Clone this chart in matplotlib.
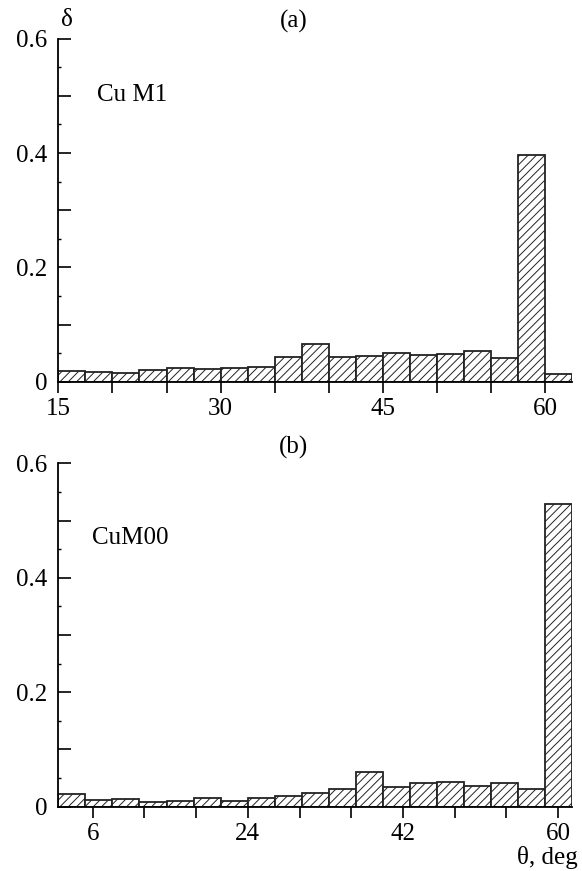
import numpy as np
import matplotlib
matplotlib.use('Agg')
import matplotlib.pyplot as plt
from matplotlib.ticker import MultipleLocator

plt.rcParams['font.family'] = ['Liberation Serif', 'DejaVu Serif']
plt.rcParams['hatch.linewidth'] = 0.7

# panel (a), Cu M1: bins of 2.5 deg starting at 15
a_start = 15.0
a_width = 2.5
a_delta = [0.019, 0.0175, 0.0147, 0.0204, 0.0234, 0.0216, 0.0245, 0.026, 0.0437,
           0.0659, 0.0437, 0.0454, 0.0495, 0.046, 0.0478, 0.053, 0.042, 0.397, 0.0134]
a_ticks = [15, 30, 45, 60]

# panel (b), CuM00
b_start = 2.0
b_width = 3.14
b_delta = [0.0222, 0.0117, 0.0128, 0.0076, 0.0105, 0.0146, 0.010, 0.0157, 0.0187,
           0.0245, 0.0315, 0.060, 0.034, 0.042, 0.0431, 0.0367, 0.042, 0.0315, 0.529]
b_ticks = [6, 24, 42, 60]

fig = plt.figure(figsize=(5.82, 8.71), dpi=100)
ax1 = fig.add_axes([0.1002, 0.5618, 0.8832, 0.3938])
ax2 = fig.add_axes([0.1002, 0.0738, 0.8832, 0.3943])

fs = 18

def panel(ax, start, width, vals, major, labels, name, name_xy, tag, tag_y):
    n = len(vals)
    left = start + width*np.arange(n)
    ax.bar(left, vals, width=width, align='edge', color='white',
           edgecolor='#222222', linewidth=1.3, hatch='////')
    ax.set_xlim(start, start + width*n)
    ax.set_ylim(0, 0.6)
    for s in ['top', 'right']:
        ax.spines[s].set_visible(False)
    for s in ['left', 'bottom']:
        ax.spines[s].set_linewidth(1.3)
    ax.xaxis.set_major_locator(MultipleLocator(major))
    ax.set_xticks([t for t in ax.get_xticks() if start <= t <= start + width*n])
    ax.set_xticklabels([str(int(t)) if int(round(t)) in labels else ''
                        for t in ax.get_xticks()])
    ax.set_yticks(np.arange(0, 0.61, 0.1))
    ax.set_yticklabels(['0', '', '0.2', '', '0.4', '', '0.6'])
    ax.yaxis.set_minor_locator(MultipleLocator(0.05))
    ax.tick_params(axis='x', direction='out', length=8, width=1.2, pad=4,
                   labelsize=fs)
    ax.tick_params(axis='y', which='major', direction='in', length=9.5, width=1.2,
                   pad=8, labelsize=fs)
    ax.tick_params(axis='y', which='minor', direction='in', length=2, width=1.0)
    ax.text(name_xy[0], name_xy[1], name, transform=ax.transAxes, fontsize=fs,
            va='center', ha='left')
    ax.text(0.458, tag_y, tag, transform=ax.transAxes, fontsize=fs,
            va='center', ha='center')

panel(ax1, a_start, a_width, a_delta, 5, a_ticks, 'Cu M1', (0.076, 0.835), '(a)', 1.05)
panel(ax2, b_start, b_width, b_delta, 6, b_ticks, 'CuM00', (0.066, 0.782), '(b)', 1.047)

ax1.text(0.017, 1.055, 'δ', transform=ax1.transAxes, fontsize=fs, va='center', ha='center')
ax2.text(1.011, -0.149, 'θ, deg', transform=ax2.transAxes, fontsize=fs,
         va='center', ha='right')

fig.savefig('out.png', dpi=100)
